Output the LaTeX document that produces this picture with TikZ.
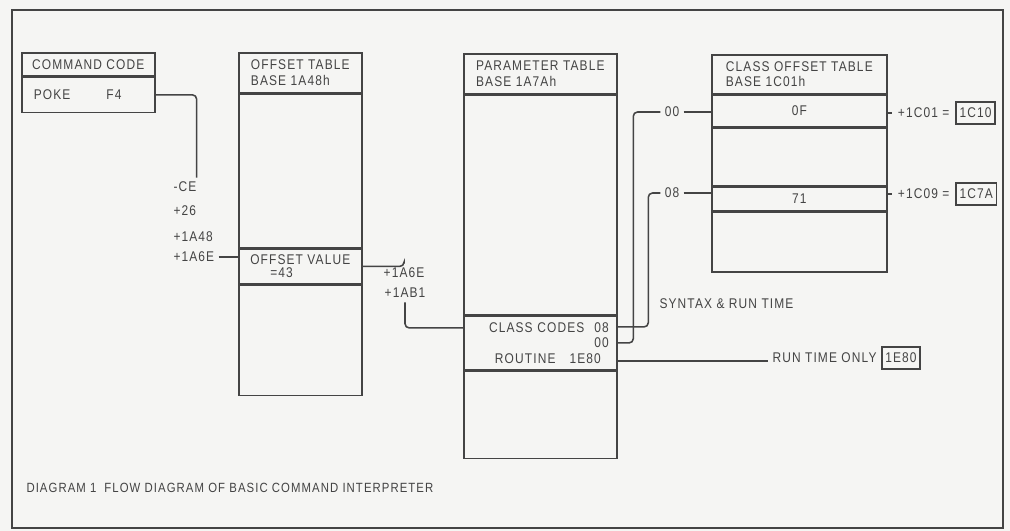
\documentclass[tikz,border=0pt]{standalone}
\usepackage{fontspec}
\setmainfont{Liberation Sans}[FakeStretch=0.85,LetterSpace=8]
\usetikzlibrary{positioning}
\definecolor{ink}{HTML}{444444}
\definecolor{paper}{HTML}{F5F5F3}

\begin{document}
\begin{tikzpicture}[x=0.025cm,y=-0.025cm,font=\fontsize{10}{11}\selectfont]
  \tikzset{cell/.style={draw=ink,line width=1.1pt,inner sep=0pt,text=ink},
    lbl/.style={text=ink,inner sep=3pt},
    val/.style={draw=ink,line width=1.1pt,inner xsep=2.5pt,inner ysep=0pt,minimum height=0.55cm,text=ink},
    link/.style={draw=ink,line width=1.1pt,rounded corners=3pt}}
  \fill[paper] (0,0) rectangle (1010,531);
  \useasboundingbox (0,0) rectangle (1010,531);
  \draw[ink,line width=2pt] (12,10) rectangle (1003,528);

  \node[cell,anchor=north west,minimum width=3.325cm,minimum height=0.575cm] (cmd) at (21,52) {COMMAND CODE};
  \node[cell,below=0pt of cmd,minimum width=3.325cm,minimum height=0.875cm,text width=2.725cm,align=left] (poke) {POKE\hspace{0.9cm}F4};

  \node[cell,anchor=north west,minimum width=3.075cm,minimum height=1cm,align=left] (ohead) at (238,52) {OFFSET TABLE\\BASE 1A48h};
  \node[cell,below=0pt of ohead,minimum width=3.075cm,minimum height=3.825cm] (otop) {};
  \node[cell,below=0pt of otop,minimum width=3.075cm,minimum height=0.875cm,align=left] (oval) {OFFSET VALUE\\[-2pt]\hspace*{0.5cm}=43};
  \node[cell,below=0pt of oval,minimum width=3.075cm,minimum height=2.75cm] (obot) {};

  \node[cell,anchor=north west,minimum width=3.825cm,minimum height=1cm,align=left] (phead) at (463,53) {PARAMETER TABLE\\BASE 1A7Ah};
  \node[cell,below=0pt of phead,minimum width=3.825cm,minimum height=5.475cm] (ptop) {};
  \node[cell,below=0pt of ptop,minimum width=3.825cm,minimum height=1.35cm,text width=3.425cm,align=right] (codes)
    {CLASS CODES\hspace{0.25cm}08\\00\\ROUTINE\hspace{0.35cm}1E80\rule{0.2cm}{0pt}};
  \node[cell,below=0pt of codes,minimum width=3.825cm,minimum height=2.175cm] (pbot) {};

  \node[cell,anchor=north west,minimum width=4.375cm,minimum height=0.975cm,align=left] (chead) at (711,54) {CLASS OFFSET TABLE\\BASE 1C01h};
  \node[cell,below=0pt of chead,minimum width=4.375cm,minimum height=0.775cm] (c0f) {0F};
  \node[cell,below=0pt of c0f,minimum width=4.375cm,minimum height=1.45cm] (cmid) {};
  \node[cell,below=0pt of cmid,minimum width=4.375cm,minimum height=0.575cm] (c71) {71};
  \node[cell,below=0pt of c71,minimum width=4.375cm,minimum height=1.5cm] (cbot) {};

  \node[lbl,anchor=west] (lce) at (169,187) {-CE};
  \node[lbl,anchor=west] (l26) at (169,211) {+26};
  \node[lbl,anchor=west] (l48) at (169,237) {+1A48};
  \node[lbl,anchor=west] (l6e) at (169,257) {+1A6E};
  \node[lbl] (r6e) at (404,273) {+1A6E};
  \node[lbl] (rb1) at (405,293) {+1AB1};
  \node[lbl] (l00) at (672,112) {00};
  \node[lbl] (l08) at (672,193) {08};
  \node[lbl,anchor=west] (syn) at (655,304) {SYNTAX \& RUN TIME};
  \node[lbl,anchor=west] (runonly) at (768,358) {RUN TIME ONLY};
  \node[val,right=0pt of runonly] (v80) {1E80};
  \node[lbl,anchor=west,inner xsep=4pt] (s01) at (892,113) {+1C01 =};
  \node[val,right=0pt of s01] (v10) {1C10};
  \node[lbl,anchor=west,inner xsep=4pt] (s09) at (892,194) {+1C09 =};
  \node[val,right=0pt of s09] (v7a) {1C7A};
  \node[lbl,anchor=west,font=\fontsize{9.5}{11}\selectfont] (title) at (22,488) {DIAGRAM 1\hspace{0.2cm}FLOW DIAGRAM OF BASIC COMMAND INTERPRETER};

  \draw[link] (poke.east) -| ([xshift=-3pt]lce.north east);
  \draw[link] (l6e.east) -- (l6e.east -| oval.west);
  \draw[link] (oval.east) -| (r6e.north);
  \draw[link] (rb1.south) |- ([yshift=0.375cm]codes.west);
  \draw[link] ([yshift=0.4cm]codes.east) -| ([xshift=-0.3cm]l08.west) -- (l08.west);
  \draw[link] (l08.east) -- (l08.east -| c71.west);
  \draw[link] (codes.east) -| ([xshift=-0.675cm]l00.west) -- (l00.west);
  \draw[link] (l00.east) -- (l00.east -| c0f.west);
  \coordinate (rt) at ([yshift=-0.45cm]codes.east);
  \draw[link] (rt) -- (rt -| runonly.west);
  \draw[link] (s01.west -| c0f.east) -- (s01.west);
  \draw[link] (s09.west -| c71.east) -- (s09.west);
\end{tikzpicture}
\end{document}
